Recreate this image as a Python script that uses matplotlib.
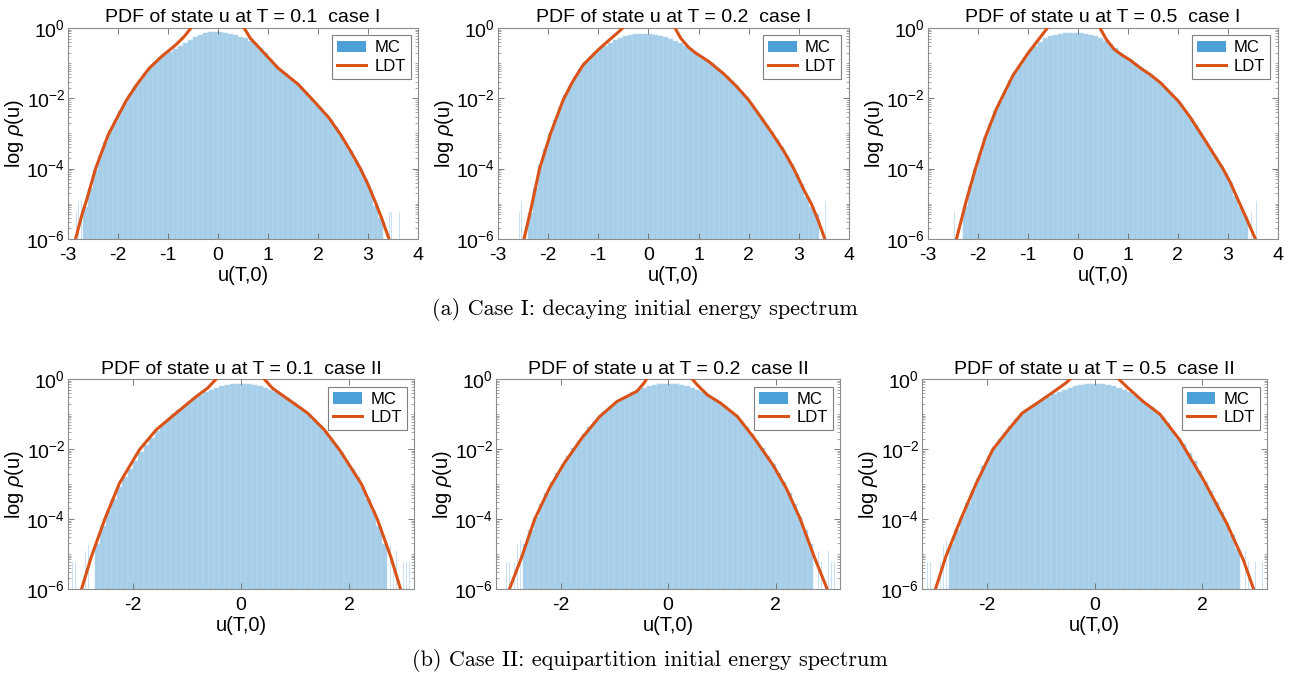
import numpy as np
import matplotlib
matplotlib.use('Agg')
import matplotlib.pyplot as plt
from matplotlib.patches import Patch
from matplotlib.lines import Line2D

plt.rcParams['font.family'] = ['Liberation Sans', 'DejaVu Sans']
plt.rcParams['mathtext.fontset'] = 'custom'
plt.rcParams['mathtext.rm'] = 'Liberation Sans'
plt.rcParams['mathtext.it'] = 'Liberation Sans:italic'
plt.rcParams['axes.unicode_minus'] = False

MC_COLOR = '#a6cee9'
MC_LEGEND = '#4d9fd8'
LDT_COLOR = '#D95319'

# ---------------------------------------------------------------------------
# LDT curves: u values and log10 rho (nan splits the two branches)
# ---------------------------------------------------------------------------
ldt1_u = [-2.85, -2.72, -2.62, -2.45, -2.2, -2.0, -1.83, -1.62, -1.38, -1.12, -0.86, -0.68, -0.54, -0.45, np.nan,
          0.45, 0.52, 0.65, 0.88, 1.2, 1.6, 1.93, 2.22, 2.45, 2.65, 2.84, 3.0, 3.14, 3.27, 3.42]
ldt1_logp = [-6.0, -5.3, -4.85, -4.0, -3.05, -2.5, -2.05, -1.6, -1.15, -0.8, -0.5, -0.25, 0.0, 0.25, np.nan,
             0.25, 0.0, -0.3, -0.65, -1.14, -1.6, -2.1, -2.56, -3.03, -3.5, -3.98, -4.45, -4.93, -5.4, -6.0]

ldt2_u = [-2.48, -2.35, -2.17, -1.95, -1.7, -1.5, -1.3, -1.0, -0.77, -0.6, -0.51, -0.42, np.nan,
          0.42, 0.53, 0.65, 0.8, 0.95, 1.2, 1.5, 1.75, 2.0, 2.25, 2.47, 2.7, 2.9, 3.1, 3.25, 3.38, 3.52]
ldt2_logp = [-6.0, -5.2, -4.0, -3.0, -2.05, -1.5, -1.05, -0.62, -0.33, -0.12, 0.0, 0.25, np.nan,
             0.25, 0.0, -0.3, -0.55, -0.72, -0.95, -1.3, -1.65, -2.05, -2.55, -3.0, -3.5, -4.0, -4.6, -5.0, -5.45, -6.0]

ldt3_u = [-2.43, -2.24, -2.05, -1.85, -1.63, -1.3, -1.0, -0.8, -0.61, -0.52, np.nan,
          0.35, 0.44, 0.57, 0.72, 0.87, 1.05, 1.25, 1.45, 1.66, 2.02, 2.25, 2.5, 2.7, 2.9, 3.05, 3.2, 3.38, 3.55]
ldt3_logp = [-6.0, -4.95, -4.0, -3.1, -2.3, -1.35, -0.72, -0.35, 0.0, 0.25, np.nan,
             0.25, 0.0, -0.33, -0.6, -0.76, -0.92, -1.14, -1.33, -1.57, -2.1, -2.55, -3.1, -3.55, -4.0, -4.4, -4.88, -5.45, -6.0]

ldt4_u = [-2.95, -2.77, -2.52, -2.25, -1.88, -1.57, -1.2, -0.83, -0.62, -0.46, -0.38, np.nan,
          0.38, 0.43, 0.58, 0.8, 1.23, 1.54, 1.82, 2.22, 2.52, 2.77, 2.95]
ldt4_logp = [-6.0, -5.08, -4.0, -2.98, -2.02, -1.45, -0.97, -0.5, -0.26, 0.0, 0.2, np.nan,
             0.2, 0.0, -0.26, -0.5, -0.97, -1.45, -2.02, -2.98, -4.0, -5.08, -6.0]

ldt5_u = [-2.95, -2.72, -2.48, -2.2, -1.93, -1.6, -1.27, -0.95, -0.77, -0.58, -0.45, -0.4, -0.35, np.nan,
          0.35, 0.45, 0.54, 0.73, 0.98, 1.29, 1.6, 1.95, 2.2, 2.46, 2.72, 2.96]
ldt5_logp = [-6.0, -5.08, -4.0, -3.1, -2.4, -1.68, -1.07, -0.64, -0.5, -0.35, -0.12, 0.0, 0.2, np.nan,
             0.2, 0.0, -0.16, -0.45, -0.69, -1.07, -1.68, -2.45, -3.12, -4.0, -5.08, -6.0]

ldt6_u = [-2.95, -2.76, -2.48, -2.2, -1.89, -1.6, -1.34, -1.02, -0.71, -0.53, -0.45, -0.38, np.nan,
          0.38, 0.45, 0.59, 0.9, 1.21, 1.58, 2.02, 2.45, 2.76, 2.95]
ldt6_logp = [-6.0, -5.08, -4.0, -3.0, -2.02, -1.45, -0.97, -0.64, -0.31, -0.11, 0.0, 0.2, np.nan,
             0.2, 0.0, -0.21, -0.64, -1.0, -1.74, -2.88, -4.12, -5.17, -6.0]

# ---------------------------------------------------------------------------
# MC histograms: first bin centre, bin width 0.1, log10 heights
# ---------------------------------------------------------------------------
mc1_first = -2.65
mc1_logp = [-5.1, -4.55, -4.05, -3.62, -3.24, -2.91, -2.64, -2.37, -2.1, -1.88, -1.66, -1.47, -1.28, -1.11,
            -0.98, -0.84, -0.74, -0.67, -0.6, -0.51, -0.42, -0.33, -0.26, -0.2, -0.15, -0.125, -0.115,
            -0.12, -0.14, -0.17, -0.21, -0.25, -0.3, -0.36, -0.45, -0.56, -0.7, -0.9, -1.06, -1.2, -1.31,
            -1.43, -1.54, -1.68, -1.83, -1.98, -2.13, -2.29, -2.45, -2.62, -2.83, -3.03, -3.27, -3.5, -3.75,
            -4.01, -4.3, -4.62, -5.05, -5.4]

mc2_first = -2.35
mc2_logp = [-5.25, -4.55, -3.91, -3.45, -3.0, -2.62, -2.24, -1.91, -1.64, -1.39, -1.16, -0.98, -0.84, -0.69,
            -0.58, -0.5, -0.42, -0.34, -0.28, -0.23, -0.19, -0.17, -0.16, -0.16,
            -0.17, -0.19, -0.22, -0.26, -0.31, -0.37, -0.43, -0.5, -0.6, -0.72, -0.81, -0.9, -1.01, -1.13,
            -1.24, -1.37, -1.51, -1.65, -1.81, -1.97, -2.15, -2.35, -2.55, -2.75, -2.96, -3.17, -3.39, -3.63,
            -3.88, -4.15, -4.45, -4.8, -5.1, -5.3]

mc3_first = -2.25
mc3_logp = [-5.05, -4.5, -4.0, -3.55, -3.1, -2.74, -2.37, -2.07, -1.78, -1.49, -1.25, -1.04, -0.83, -0.64,
            -0.5, -0.39, -0.3, -0.24, -0.19, -0.16, -0.14, -0.135, -0.14,
            -0.15, -0.17, -0.2, -0.24, -0.29, -0.36, -0.45, -0.56, -0.7, -0.83, -0.92, -1.03, -1.14, -1.24,
            -1.33, -1.44, -1.56, -1.7, -1.85, -2.0, -2.16, -2.35, -2.55, -2.77, -2.99, -3.21, -3.44, -3.66,
            -3.89, -4.13, -4.4, -4.78, -5.1, -5.35]

mc4_first = -2.65
mc4_logp = [-4.7, -4.2, -3.76, -3.42, -3.08, -2.81, -2.57, -2.33, -2.09, -1.88, -1.67, -1.47, -1.31, -1.16,
            -1.0, -0.88, -0.77, -0.66, -0.54, -0.45, -0.37, -0.31, -0.25, -0.2, -0.17, -0.15, -0.14,
            -0.14, -0.15, -0.17, -0.2, -0.25, -0.31, -0.37, -0.45, -0.54, -0.66, -0.77, -0.88, -1.0, -1.16,
            -1.31, -1.47, -1.67, -1.88, -2.09, -2.33, -2.57, -2.81, -3.08, -3.42, -3.76, -4.2, -4.7]

mc5_first = -2.65
mc5_logp = [-4.7, -4.3, -3.95, -3.58, -3.25, -2.95, -2.68, -2.43, -2.2, -1.98, -1.78, -1.57, -1.37, -1.19,
            -1.04, -0.91, -0.78, -0.66, -0.56, -0.47, -0.38, -0.31, -0.25, -0.2, -0.17, -0.15, -0.14,
            -0.14, -0.15, -0.17, -0.2, -0.25, -0.31, -0.38, -0.47, -0.56, -0.66, -0.78, -0.91, -1.04, -1.19,
            -1.37, -1.57, -1.78, -1.98, -2.2, -2.43, -2.68, -2.95, -3.25, -3.58, -3.95, -4.3, -4.7]

mc6_first = -2.65
mc6_logp = [-4.7, -4.3, -3.9, -3.53, -3.17, -2.82, -2.48, -2.2, -1.94, -1.72, -1.53, -1.35, -1.15, -0.99,
            -0.87, -0.76, -0.67, -0.58, -0.51, -0.43, -0.36, -0.3, -0.25, -0.2, -0.17, -0.15, -0.14,
            -0.14, -0.15, -0.17, -0.2, -0.25, -0.31, -0.38, -0.46, -0.56, -0.7, -0.81, -0.93, -1.08, -1.26,
            -1.47, -1.68, -1.86, -2.1, -2.35, -2.62, -2.94, -3.2, -3.5, -3.8, -4.12, -4.45, -4.85]

# sparse single-count bins in the far tails
tail1_u = [-2.90, -2.86, -2.83, -2.79, -2.76, -2.73, -2.70, 3.30, 3.34, 3.38, 3.43, 3.47, 3.52, 3.58, 3.63, 3.70, 3.78]
tail1_logp = [-5.22, -5.22, -5.22, -4.92, -5.22, -4.92, -4.75, -4.92, -5.22, -4.92, -5.22, -5.22, -5.22, -5.22, -5.22, -5.22, -5.22]
tail2_u = [-2.70, -2.66, -2.62, -2.57, -2.53, -2.48, -2.44, 3.40, 3.44, 3.48, 3.53, 3.58, 3.62, 3.68]
tail2_logp = [-5.22, -5.22, -4.92, -5.22, -4.92, -4.92, -4.75, -4.92, -5.22, -5.22, -4.92, -5.22, -5.22, -5.22]
tail3_u = [-2.58, -2.52, -2.47, -2.42, -2.38, -2.34, -2.30, 3.42, 3.47, 3.52, 3.57, 3.62, 3.68]
tail3_logp = [-4.92, -5.22, -5.22, -4.92, -5.22, -4.75, -4.92, -4.92, -5.22, -5.22, -4.92, -5.22, -5.22]
tail4_u = [-3.12, -3.06, -3.00, -2.94, -2.88, -2.82, -2.76, 2.76, 2.82, 2.88, 2.94, 3.00, 3.06, 3.12]
tail4_logp = [-5.22, -5.22, -5.22, -5.22, -4.92, -4.75, -4.6, -4.75, -5.22, -4.92, -5.22, -5.22, -5.22, -5.22]
tail5_u = [-3.05, -3.00, -2.95, -2.90, -2.85, -2.80, -2.75, 2.75, 2.80, 2.86, 2.92, 2.98, 3.04, 3.10]
tail5_logp = [-5.22, -5.22, -5.22, -4.92, -5.22, -4.75, -4.6, -4.6, -4.92, -5.22, -5.22, -4.92, -5.22, -5.22]
tail6_u = [-3.10, -3.04, -2.98, -2.92, -2.86, -2.80, -2.75, 2.75, 2.80, 2.86, 2.92, 2.98, 3.05, 3.12]
tail6_logp = [-5.22, -5.22, -5.22, -4.92, -5.22, -4.75, -4.6, -4.6, -4.92, -5.22, -4.92, -5.22, -5.22, -5.22]

titles = ['PDF of state u at T = 0.1  case I', 'PDF of state u at T = 0.2  case I',
          'PDF of state u at T = 0.5  case I', 'PDF of state u at T = 0.1  case II',
          'PDF of state u at T = 0.2  case II', 'PDF of state u at T = 0.5  case II']
xticks_top = [-3, -2, -1, 0, 1, 2, 3, 4]
xticks_bottom = [-2, 0, 2]
yticks = [1e-6, 1e-4, 1e-2, 1e0]
ytick_labels = ['$\\mathregular{10^{-6}}$', '$\\mathregular{10^{-4}}$',
                '$\\mathregular{10^{-2}}$', '$\\mathregular{10^{0}}$']

panels = [
    (ldt1_u, ldt1_logp, mc1_first, mc1_logp, tail1_u, tail1_logp),
    (ldt2_u, ldt2_logp, mc2_first, mc2_logp, tail2_u, tail2_logp),
    (ldt3_u, ldt3_logp, mc3_first, mc3_logp, tail3_u, tail3_logp),
    (ldt4_u, ldt4_logp, mc4_first, mc4_logp, tail4_u, tail4_logp),
    (ldt5_u, ldt5_logp, mc5_first, mc5_logp, tail5_u, tail5_logp),
    (ldt6_u, ldt6_logp, mc6_first, mc6_logp, tail6_u, tail6_logp),
]

# axes rectangles (figure fraction)
rects = [
    [0.0528, 0.646, 0.2715, 0.3126],
    [0.3863, 0.646, 0.2723, 0.3126],
    [0.7199, 0.646, 0.2715, 0.3126],
    [0.0528, 0.1274, 0.2684, 0.311],
    [0.3848, 0.1274, 0.2669, 0.311],
    [0.7153, 0.1274, 0.2677, 0.311],
]

fig = plt.figure(figsize=(12.89, 6.75), dpi=100)

minor = [s * 10.0 ** k for k in range(-6, 0) for s in range(1, 10) if not (s == 1 and k % 2 == 0)]

for i, (ldt_u, ldt_logp, mc_first, mc_logp, tail_u, tail_logp) in enumerate(panels):
    ax = fig.add_axes(rects[i])
    ax.set_yscale('log')

    centers = mc_first + 0.1 * np.arange(len(mc_logp))
    base = 1e-8
    ax.bar(centers, 10.0 ** np.array(mc_logp) - base, bottom=base, width=0.1,
           color=MC_COLOR, edgecolor='#b9d9ef', linewidth=0.35, zorder=1)
    ax.bar(tail_u, 10.0 ** np.array(tail_logp) - base, bottom=base, width=0.012,
           color='#9cc7e6', alpha=0.55, linewidth=0, zorder=1)

    ax.plot(ldt_u, 10.0 ** np.array(ldt_logp), color=LDT_COLOR, lw=2.2, zorder=3)

    if i < 3:
        ax.set_xlim(-3, 4)
        ax.set_xticks(xticks_top)
    else:
        ax.set_xlim(-3.2, 3.2)
        ax.set_xticks(xticks_bottom)
    ax.set_ylim(1e-6, 1e0)
    ax.set_yticks(yticks)
    ax.set_yticklabels(ytick_labels)
    ax.set_yticks(minor, minor=True)
    ax.yaxis.set_minor_formatter(plt.NullFormatter())

    ax.tick_params(which='both', direction='in', top=True, right=True, labelsize=14,
                   color='#666666')
    ax.tick_params(axis='x', pad=6)
    ax.tick_params(axis='y', pad=2)
    ax.tick_params(which='major', length=4, width=0.6)
    ax.tick_params(which='minor', length=2, width=0.4)
    for sp in ax.spines.values():
        sp.set_color('#8c8c8c')
        sp.set_linewidth(0.8)

    ax.set_title(titles[i], fontsize=14, pad=4)
    ax.set_xlabel('u(T,0)', fontsize=14.5, labelpad=1)
    ax.set_ylabel('log $\\rho$(u)', fontsize=14.5, labelpad=0)

    handles = [Patch(facecolor=MC_LEGEND, edgecolor='none'), Line2D([], [], color=LDT_COLOR, lw=2.2)]
    leg = ax.legend(handles, ['MC', 'LDT'], loc='upper right', fontsize=12, fancybox=False,
                    edgecolor='#7f7f7f', framealpha=1, borderpad=0.3, labelspacing=0.2,
                    handlelength=1.7, handletextpad=0.5, borderaxespad=0.45)
    leg.get_frame().set_linewidth(0.8)

fig.text(0.50, 0.541, '(a) Case I: decaying initial energy spectrum', ha='center', va='center',
         fontsize=16, family='cmr10')
fig.text(0.504, 0.022, '(b) Case II: equipartition initial energy spectrum', ha='center', va='center',
         fontsize=16, family='cmr10')

fig.savefig('out.png', dpi=100)
